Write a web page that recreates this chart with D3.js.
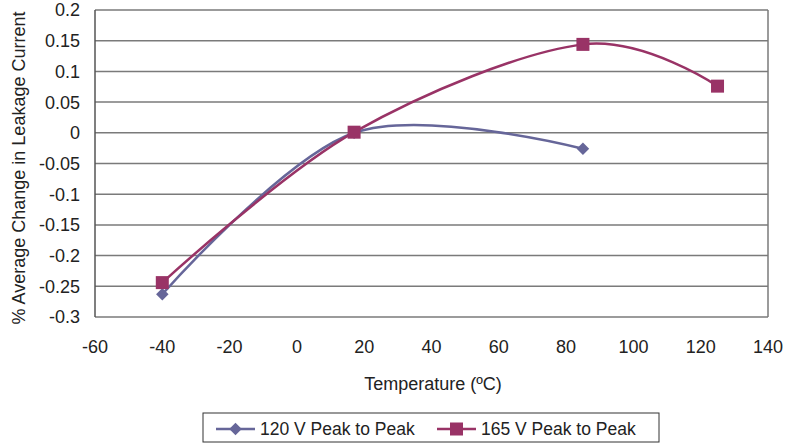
<!DOCTYPE html>
<html><head><meta charset="utf-8">
<script src="https://cdn.jsdelivr.net/npm/d3@7"></script>
<style>body{margin:0;background:#fff}svg{display:block;font-family:"Liberation Sans",Arial,sans-serif}</style>
</head><body>
<svg id="c" width="786" height="443"></svg>
<script>
const temps120 = [-40, 17, 85];
const vals120 = [-0.263, 0.0, -0.026];
const temps165 = [-40, 17, 85, 125];
const vals165 = [-0.244, 0.001, 0.144, 0.076];
const seriesNames = ["120 V Peak to Peak", "165 V Peak to Peak"];
const xTicks = [-60, -40, -20, 0, 20, 40, 60, 80, 100, 120, 140];
const yTicks = [0.2, 0.15, 0.1, 0.05, 0, -0.05, -0.1, -0.15, -0.2, -0.25, -0.3];

const svg = d3.select("#c");
const L = 95, R = 768, T = 10, B = 317;
const x = d3.scaleLinear().domain([-60, 140]).range([L, R]);
const y = d3.scaleLinear().domain([-0.3, 0.2]).range([B, T]);
const colors = ["#666699", "#993366"];

// gridlines
svg.append("g").selectAll("line").data(yTicks).join("line")
  .attr("x1", L).attr("x2", R).attr("y1", d => y(d)).attr("y2", d => y(d))
  .attr("stroke", "#7a7a7a").attr("stroke-width", 1.5);
// frame
svg.append("line").attr("x1", L).attr("x2", L).attr("y1", T).attr("y2", B).attr("stroke", "#555").attr("stroke-width", 1.5);
svg.append("line").attr("x1", R).attr("x2", R).attr("y1", T).attr("y2", B).attr("stroke", "#7a7a7a").attr("stroke-width", 1.5);

// y tick labels
svg.append("g").selectAll("text").data(yTicks).join("text")
  .attr("x", 80).attr("y", d => y(d)).attr("dy", "0.36em")
  .attr("text-anchor", "end").attr("font-size", 18).attr("fill", "#222")
  .text(d => String(d));
// x tick labels
svg.append("g").selectAll("text").data(xTicks).join("text")
  .attr("x", d => x(d)).attr("y", 347).attr("dy", "0.36em")
  .attr("text-anchor", "middle").attr("font-size", 18).attr("fill", "#222")
  .text(d => String(d));

svg.append("text").attr("x", 433).attr("y", 384).attr("dy", "0.36em")
  .attr("text-anchor", "middle").attr("font-size", 18).attr("fill", "#222")
  .text("Temperature (ºC)");
svg.append("text").attr("transform", "translate(19,168) rotate(-90)").attr("dy", "0.36em")
  .attr("text-anchor", "middle").attr("font-size", 18).attr("fill", "#222")
  .text("% Average Change in Leakage Current");

const series = [d3.zip(temps120, vals120), d3.zip(temps165, vals165)];
const line = d3.line().x(d => x(d[0])).y(d => y(d[1])).curve(d3.curveCardinal.tension(0));

series.forEach((s, i) => {
  svg.append("path").datum(s).attr("d", line).attr("fill", "none")
    .attr("stroke", colors[i]).attr("stroke-width", 2.5);
});
function marker(g, i, cx, cy) {
  if (i === 0) {
    g.append("path").attr("d", d3.symbol(d3.symbolDiamond2, 100)())
      .attr("transform", `translate(${cx},${cy})`).attr("fill", colors[i]);
  } else {
    g.append("rect").attr("x", cx - 6.5).attr("y", cy - 6.5).attr("width", 13).attr("height", 13).attr("fill", colors[i]);
  }
}
series.forEach((s, i) => {
  const g = svg.append("g");
  s.forEach(d => marker(g, i, x(d[0]), y(d[1])));
});

// legend
svg.append("rect").attr("x", 203).attr("y", 413).attr("width", 456).attr("height", 29)
  .attr("fill", "none").attr("stroke", "#333").attr("stroke-width", 1);
const legX = [216, 437];
seriesNames.forEach((n, i) => {
  const lx = legX[i], ly = 429;
  svg.append("line").attr("x1", lx).attr("x2", lx + 39).attr("y1", ly).attr("y2", ly)
    .attr("stroke", colors[i]).attr("stroke-width", 2.5);
  const g = svg.append("g");
  marker(g, i, lx + 19.5, ly);
  svg.append("text").attr("x", lx + 44).attr("y", ly).attr("dy", "0.36em")
    .attr("font-size", 17.5).attr("fill", "#222").text(n);
});
</script>
</body></html>
